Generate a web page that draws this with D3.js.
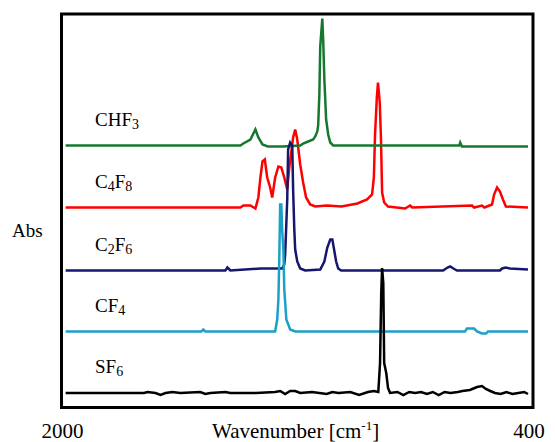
<!DOCTYPE html>
<html>
<head>
<meta charset="utf-8">
<script src="https://cdn.jsdelivr.net/npm/d3@7"></script>
<style>
	body { margin: 0; background: #fff; }
	text { font-family: "Liberation Serif", "Times New Roman", serif; fill: #000; }
</style>
</head>
<body>
<svg width="555" height="442"></svg>
<script>
// spectra: [wavenumber cm-1, absorbance above own baseline]
const chf3 = [
	[1986, 0], [1393, 0], [1383, 0.02], [1359, 0.06], [1342, 0.16], [1332, 0.08],
	[1318, 0.01], [1300, -0.01], [1250, -0.01], [1190, 0], [1180, 0.02], [1163, 0.04],
	[1146, 0.06], [1139, 0.09], [1132, 0.14], [1129, 0.2], [1125, 0.51], [1122, 0.99],
	[1115, 1.27], [1112, 1.06], [1108, 0.66], [1102, 0.26], [1095, 0.11], [1088, 0.03],
	[1078, 0], [650, 0], [647, 0.03], [641, -0.01], [417, -0.01],
];
const c4f8 = [
	[1986, 0], [1393, 0], [1383, 0.02], [1359, 0.02], [1342, -0.01], [1332, 0.1],
	[1325, 0.3], [1318, 0.46], [1310, 0.48], [1302, 0.3], [1292, 0.2], [1285, 0.1],
	[1275, 0.3], [1264, 0.41], [1254, 0.4], [1244, 0.3], [1234, 0.18], [1227, 0.4],
	[1214, 0.7], [1207, 0.78], [1200, 0.68], [1190, 0.43], [1180, 0.25], [1170, 0.1],
	[1156, 0.03], [1139, 0.01], [1100, 0.02], [1050, 0.01], [996, 0.04], [963, 0.08],
	[946, 0.13], [940, 0.3], [936, 0.73], [930, 1.1], [926, 1.25], [920, 1.05],
	[916, 0.7], [912, 0.15], [905, 0.05], [892, 0.01], [834, -0.01], [817, 0.02],
	[810, 0], [607, 0.02], [600, 0], [573, 0.02], [565, 0], [539, 0.03], [532, 0.13],
	[522, 0.2], [512, 0.16], [502, 0.08], [492, 0.01], [417, 0],
];
const c2f6 = [
	[1986, 0], [1444, 0], [1437, 0.03], [1427, 0], [1325, 0.02], [1251, 0.02],
	[1244, 0.06], [1241, 0.16], [1234, 0.71], [1231, 1.21], [1224, 1.28], [1217, 1.25],
	[1214, 0.81], [1210, 0.41], [1207, 0.21], [1200, 0.09], [1190, 0.02], [1173, 0],
	[1122, 0.01], [1108, 0.09], [1098, 0.23], [1088, 0.31], [1081, 0.31], [1075, 0.21],
	[1068, 0.09], [1061, 0.02], [1051, 0], [705, 0], [690, 0.03], [681, 0.04],
	[670, 0.02], [658, 0], [512, 0], [505, 0.02], [492, 0.03], [478, 0.02], [417, 0.01],
];
const cf4 = [
	[1986, 0], [1525, 0], [1519, 0.02], [1512, 0], [1275, 0], [1268, 0.12],
	[1264, 0.32], [1261, 0.72], [1258, 1.27], [1254, 1.27], [1251, 1.0], [1247, 0.82],
	[1244, 0.42], [1237, 0.12], [1224, 0.02], [1207, 0], [631, 0], [624, 0.03],
	[600, 0.03], [590, 0], [573, -0.02], [559, -0.02], [553, 0], [417, 0],
];
const sf6 = [
	[1986, 0], [1720, 0], [1708, 0.01], [1681, 0], [1664, -0.02], [1647, 0],
	[1624, 0.01], [1597, 0], [1529, 0.01], [1512, -0.01], [1495, 0], [1444, 0.01],
	[1427, 0], [1340, 0], [1275, 0.01], [1258, 0.02], [1241, -0.01], [1224, 0.02],
	[1207, 0.02], [1190, 0], [1150, 0.01], [1100, -0.01], [1081, 0.01], [1060, 0],
	[1020, 0.01], [990, -0.02], [960, 0.01], [940, 0.02], [925, 0.01], [919, 0.3],
	[915, 1.0], [912, 1.25], [908, 1.1], [905, 0.3], [898, 0.2], [892, 0.05],
	[885, 0], [860, 0.01], [840, -0.02], [820, 0.01], [800, 0], [780, 0.01],
	[760, -0.01], [740, 0.01], [720, -0.02], [700, 0.01], [680, 0], [655, 0.01],
	[640, 0.02], [614, 0.03], [590, 0.06], [573, 0.07], [560, 0.04], [545, 0.02],
	[529, 0], [510, -0.01], [490, 0.01], [470, -0.01], [450, 0], [430, 0.01], [417, -0.01],
];

// names, vertical offsets, colours (drawing order: red under green)
const names = ["C4F8", "CHF3", "C2F6", "CF4", "SF6"];
const labels = [["C", "4", "F", "8"], ["CHF", "3"], ["C", "2", "F", "6"], ["CF", "4"], ["SF", "6"]];
const spectra = [c4f8, chf3, c2f6, cf4, sf6];
const offsets = [2.0, 2.62, 1.37, 0.76, 0.145];
const colours = ["#ff0000", "#16782f", "#17166e", "#1ba0c8", "#000000"];

const svg = d3.select("svg");
const box = { left: 61.5, right: 533, top: 14, bottom: 407.5 };

const x = d3.scaleLinear().domain([2000, 400]).range([box.left, box.right]);
const y = d3.scaleLinear().domain([0, 3.935]).range([box.bottom, box.top]);

svg.append("rect")
	.attr("x", box.left)
	.attr("y", box.top)
	.attr("width", box.right - box.left)
	.attr("height", box.bottom - box.top)
	.attr("fill", "none")
	.attr("stroke", "#000")
	.attr("stroke-width", 3);

spectra.forEach((data, i) => {
	const line = d3.line()
		.x((d) => x(d[0]))
		.y((d) => y(offsets[i] + d[1]));
	svg.append("path")
		.datum(data)
		.attr("fill", "none")
		.attr("stroke", colours[i])
		.attr("stroke-width", 2.5)
		.attr("stroke-linejoin", "miter")
		.attr("d", line);

	// formula label, digits as subscripts
	const t = svg.append("text")
		.attr("x", 95)
		.attr("y", y(offsets[i]) - 20)
		.attr("font-size", "19px");
	labels[i].forEach((part, k) => {
		const sub = k % 2 === 1;
		t.append("tspan")
			.attr("font-size", sub ? "14px" : "19px")
			.attr("dy", k === 0 ? 0 : sub ? 3 : -3)
			.text(part);
	});
});

svg.append("text")
	.attr("x", 12)
	.attr("y", 237)
	.attr("font-size", "19px")
	.text("Abs");

svg.append("text")
	.attr("x", x(2000) + 1)
	.attr("y", 438)
	.attr("text-anchor", "middle")
	.attr("font-size", "21px")
	.text("2000");

svg.append("text")
	.attr("x", x(400) - 4)
	.attr("y", 438)
	.attr("text-anchor", "middle")
	.attr("font-size", "21px")
	.text("400");

const title = svg.append("text")
	.attr("x", 212)
	.attr("y", 438)
	.attr("font-size", "21px");
title.append("tspan").text("Wavenumber [cm");
title.append("tspan").attr("font-size", "13px").attr("dy", -8).text("-1");
title.append("tspan").attr("dy", 8).text("]");
</script>
</body>
</html>
